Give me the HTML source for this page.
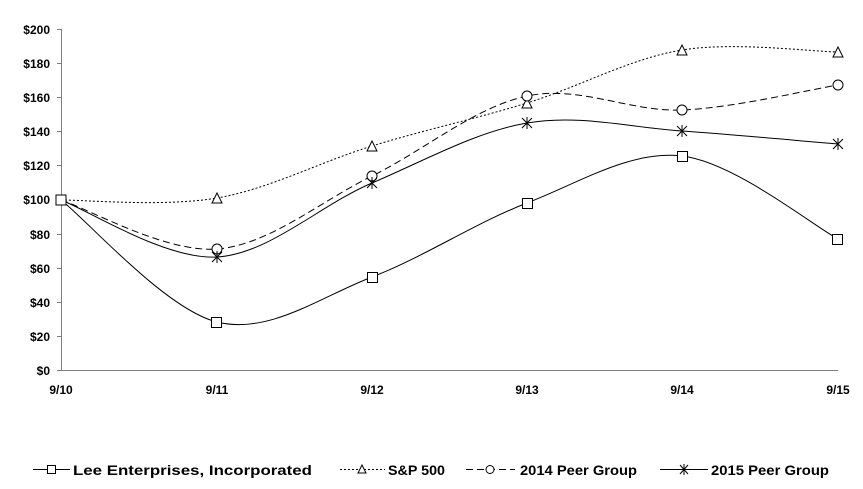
<!DOCTYPE html>
<html><head><meta charset="utf-8"><style>
body{margin:0;background:#fff}
svg text{font-family:"Liberation Sans",sans-serif;font-weight:bold;font-size:12px;fill:#000}
svg text.lg{font-size:14px}
</style></head><body>
<svg width="863" height="484" viewBox="0 0 863 484" xmlns="http://www.w3.org/2000/svg">
<g stroke="#808080" stroke-width="1">
<line x1="61.5" y1="29" x2="61.5" y2="370"/>
<line x1="61" y1="370.5" x2="838" y2="370.5"/>
<line x1="57" y1="29.5" x2="61" y2="29.5"/><line x1="57" y1="63.5" x2="61" y2="63.5"/>
<line x1="57" y1="97.5" x2="61" y2="97.5"/><line x1="57" y1="131.5" x2="61" y2="131.5"/>
<line x1="57" y1="165.5" x2="61" y2="165.5"/><line x1="57" y1="199.5" x2="61" y2="199.5"/>
<line x1="57" y1="234.5" x2="61" y2="234.5"/><line x1="57" y1="268.5" x2="61" y2="268.5"/>
<line x1="57" y1="302.5" x2="61" y2="302.5"/><line x1="57" y1="336.5" x2="61" y2="336.5"/>
<line x1="57" y1="370.5" x2="61" y2="370.5"/>
</g>
<g text-anchor="end">
<text x="50" y="34">$200</text><text x="50" y="68">$180</text><text x="50" y="102">$160</text>
<text x="50" y="136">$140</text><text x="50" y="170">$120</text><text x="50" y="204">$100</text>
<text x="50" y="239">$80</text><text x="50" y="273">$60</text><text x="50" y="307">$40</text>
<text x="50" y="341">$20</text><text x="50" y="375">$0</text>
</g>
<g text-anchor="middle">
<text x="61" y="394">9/10</text><text x="217" y="394">9/11</text><text x="372" y="394">9/12</text>
<text x="527" y="394">9/13</text><text x="682" y="394">9/14</text><text x="838" y="394">9/15</text>
</g>
<g fill="none" stroke="#000" stroke-width="1">
<path d="M61,200 C87,220 165,309 217,322 C269,335 320,297 372,277 C424,257 475,223 527,203 C579,183 630,150 682,156 C734,162 812,225 838,239"/>
<path stroke-dasharray="2,2" d="M61,200 C87,200 165,207 217,198 C269,189 320,162 372,146 C424,130 475,119 527,103 C579,87 630,58.5 682,50 C734,41.5 812,51.7 838,52"/>
<path stroke-dasharray="7,4" d="M61,200 C87,208 165,253 217,249 C269,245 320,201.5 372,176 C424,150.5 475,107 527,96 C579,85 630,112 682,110 C734,108 812,89 838,85"/>
<path d="M61,200 C87,209.5 165,260 217,257 C269,254 320,205 372,183 C424,161 475,132 527,123 C579,114 630,127.5 682,131 C734,134.5 812,142 838,144"/>
</g>
<g fill="#fff" stroke="#000" stroke-width="1">
<rect x="211.5" y="317.5" width="10" height="10"/><rect x="367.5" y="272.5" width="10" height="10"/>
<rect x="522.5" y="198.5" width="10" height="10"/><rect x="677.5" y="151.5" width="10" height="10"/>
<rect x="832.5" y="234.5" width="10" height="10"/><rect x="56" y="195" width="10" height="10"/>
<path d="M217,193 L222,203 L212,203Z M372,141 L377,151 L367,151Z M527,98 L532,108 L522,108Z M682,45 L687,55 L677,55Z M838,47 L843,57 L833,57Z"/>
<circle cx="217" cy="249" r="5"/><circle cx="372" cy="176" r="5"/><circle cx="527" cy="96" r="5"/>
<circle cx="682" cy="110" r="5"/><circle cx="838" cy="85" r="5"/>
</g>
<g stroke="#000" stroke-width="1">
<path d="M212,252 L222,262 M222,252 L212,262 M217,251 V263 M367,178 L377,188 M377,178 L367,188 M372,177 V189 M522,118 L532,128 M532,118 L522,128 M527,117 V129 M677,126 L687,136 M687,126 L677,136 M682,125 V137 M833,139 L843,149 M843,139 L833,149 M838,138 V150"/>
</g>
<g stroke="#000" fill="none">
<line x1="33" y1="469.5" x2="70" y2="469.5"/><rect x="47.5" y="465.5" width="8" height="8" fill="#fff"/>
<line x1="340" y1="469.5" x2="385" y2="469.5" stroke-dasharray="2,2"/><path d="M362,465 L366,473 L358,473Z" fill="#fff"/>
<line x1="466" y1="469.5" x2="515" y2="469.5" stroke-dasharray="7,4"/><circle cx="490" cy="469.5" r="4" fill="#fff"/>
<line x1="660" y1="469.5" x2="708" y2="469.5"/><path d="M680,465 L688,474 M688,465 L680,474 M684,464 V475"/>
</g>
<text class="lg" x="73" y="475" textLength="239" lengthAdjust="spacingAndGlyphs">Lee Enterprises,  Incorporated</text>
<text class="lg" x="388" y="475" textLength="57" lengthAdjust="spacingAndGlyphs">S&amp;P 500</text>
<text class="lg" x="520" y="475" textLength="117" lengthAdjust="spacingAndGlyphs">2014 Peer Group</text>
<text class="lg" x="711" y="475" textLength="118" lengthAdjust="spacingAndGlyphs">2015 Peer Group</text>
</svg>
</body></html>
